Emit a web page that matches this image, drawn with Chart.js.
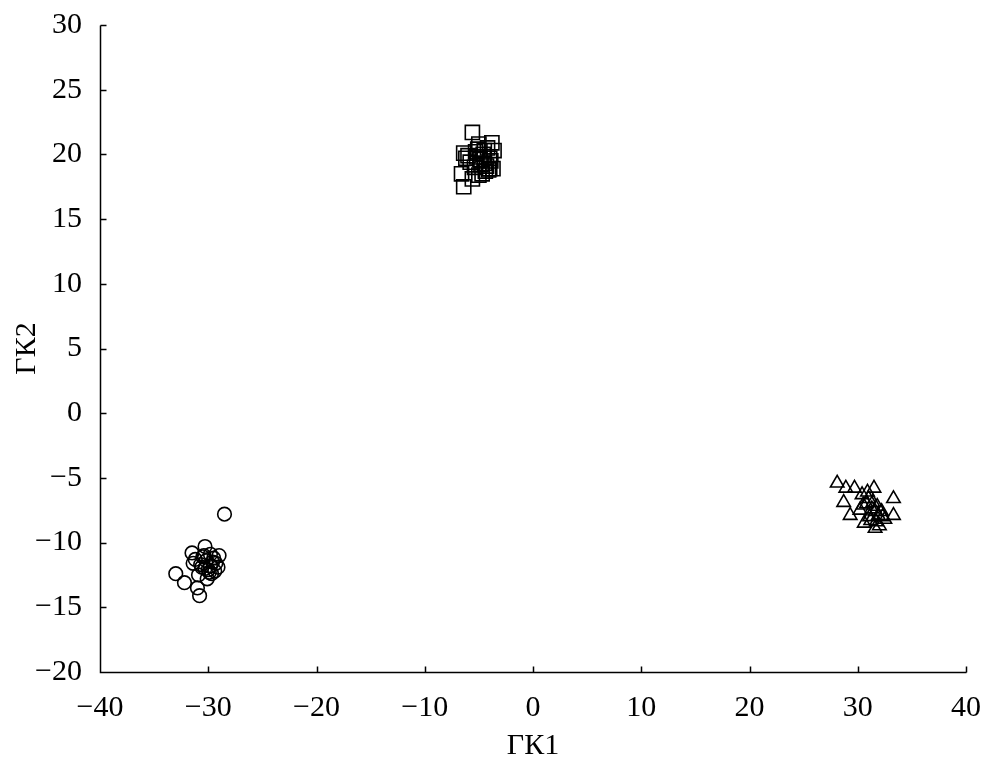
<!DOCTYPE html>
<html>
<head>
<meta charset="utf-8">
<script src="https://cdn.jsdelivr.net/npm/chart.js@4/dist/chart.umd.min.js"></script>
<style>
  html, body { margin: 0; padding: 0; background: #fff; }
  #wrap { width: 1004px; height: 770px; }
</style>
</head>
<body>
<div id="wrap"><canvas id="scatterChart"></canvas></div>
<script>
// squares (upper cluster)
const sqX = [-5.6, -6.6, -6.4, -5.6, -6.4, -3.8, -4.0, -6.2, -5.0, -4.5, -4.2, -5.2, -4.8, -3.9, -4.4, -5.4, -4.6, -3.6, -5.0, -4.3, -5.8, -4.9, -4.1, -3.7, -5.3, -4.7, -6.0, -4.5, -5.1, -4.0];
const sqY = [21.7, 18.5, 17.5, 18.1, 20.1, 20.9, 18.9, 19.7, 20.8, 20.3, 20.5, 19.8, 19.2, 19.5, 18.7, 19.0, 20.0, 20.3, 18.4, 19.1, 19.4, 19.6, 18.8, 18.9, 20.2, 18.5, 19.9, 19.3, 20.4, 19.7];

// circles (lower left)
const ciX = [-28.5, -33.0, -32.2, -30.8, -31.0, -30.3, -29.0, -31.5, -30.2, -29.8, -30.6, -29.5, -30.0, -29.3, -30.9, -29.7, -30.4, -29.1, -30.1, -31.2, -29.6, -30.7, -29.9, -30.3, -31.4, -29.4, -30.5, -29.8];
const ciY = [-7.8, -12.4, -13.1, -14.1, -13.5, -10.3, -11.0, -10.8, -11.4, -11.8, -11.9, -11.2, -12.1, -11.6, -12.5, -12.4, -11.0, -11.9, -12.8, -11.3, -11.5, -11.7, -12.3, -12.0, -11.6, -12.2, -11.1, -10.9];

// triangles (lower right)
const trX = [28.1, 28.9, 29.7, 31.5, 33.3, 28.7, 29.3, 33.3, 30.6, 31.6, 30.4, 31.0, 31.8, 32.2, 30.8, 31.3, 31.9, 32.5, 30.2, 31.1, 31.7, 32.0, 30.9, 31.4, 32.3, 31.6, 30.5, 31.2];
const trY = [-5.4, -5.8, -5.8, -5.8, -6.6, -6.9, -7.9, -7.9, -8.5, -8.9, -6.3, -6.6, -7.2, -7.6, -7.0, -7.4, -7.9, -8.2, -7.5, -8.0, -8.4, -8.7, -6.1, -6.9, -8.0, -7.6, -7.1, -8.3];

const xTicks = [-40, -30, -20, -10, 0, 10, 20, 30, 40];
const yTicks = [-20, -15, -10, -5, 0, 5, 10, 15, 20, 25, 30];

function toPoints(xs, ys) {
    return xs.map((x, i) => ({ x: x, y: ys[i] }));
}

function fmt(v) {
    return v < 0 ? "\u2212" + Math.abs(v) : String(v);
}

// axis lines plus short ticks pointing into the plot
const innerTicks = {
    id: "innerTicks",
    afterDraw(chart) {
        const ctx = chart.ctx;
        const xs = chart.scales.x, ys = chart.scales.y;
        const left = Math.round(xs.getPixelForValue(-40)) + 0.5;
        const bottom = Math.round(ys.getPixelForValue(-20)) + 0.5;
        ctx.save();
        ctx.strokeStyle = "#000";
        ctx.lineWidth = 1.5;
        ctx.beginPath();
        ctx.moveTo(left, Math.round(ys.getPixelForValue(30)) + 0.5);
        ctx.lineTo(left, bottom);
        ctx.lineTo(Math.round(xs.getPixelForValue(40)) + 0.5, bottom);
        xTicks.forEach(v => {
            const px = Math.round(xs.getPixelForValue(v)) + 0.5;
            ctx.moveTo(px, bottom);
            ctx.lineTo(px, bottom - 6);
        });
        yTicks.forEach(v => {
            const py = Math.round(ys.getPixelForValue(v)) + 0.5;
            ctx.moveTo(left, py);
            ctx.lineTo(left + 6, py);
        });
        ctx.stroke();
        ctx.restore();
    }
};

const font = { family: "'Liberation Serif', 'Times New Roman', serif", size: 30 };

const ds = (label, xs, ys, style, r) => ({
    label: label,
    data: toPoints(xs, ys),
    pointStyle: style,
    pointRadius: r,
    pointHoverRadius: r,
    borderColor: "#000",
    backgroundColor: "rgba(0,0,0,0)",
    borderWidth: 1.6
});

new Chart(document.getElementById("scatterChart").getContext("2d"), {
    type: "scatter",
    data: {
        datasets: [
            ds("squares", sqX, sqY, "rect", 10),
            ds("circles", ciX, ciY, "circle", 6.8),
            ds("triangles", trX, trY, "triangle", 7.8)
        ]
    },
    options: {
        responsive: true,
        maintainAspectRatio: false,
        animation: false,
        layout: { padding: { top: 25, right: 38, left: 0, bottom: 0 } },
        plugins: { legend: { display: false }, tooltip: { enabled: false } },
        scales: {
            x: {
                type: "linear",
                min: -40, max: 40,
                afterBuildTicks: s => { s.ticks = xTicks.map(v => ({ value: v })); },
                afterFit: s => { s.height = 98; s.paddingLeft = 0; s.paddingRight = 0; },
                grid: { display: false, drawTicks: false },
                border: { display: false },
                ticks: { color: "#000", font: font, padding: 18, maxRotation: 0, callback: v => fmt(v) },
                title: { display: true, text: "ГК1", color: "#000", font: font, padding: { top: 0, bottom: 6 } }
            },
            y: {
                type: "linear",
                min: -20, max: 30,
                afterBuildTicks: s => { s.ticks = yTicks.map(v => ({ value: v })); },
                afterFit: s => { s.width = 100; s.paddingTop = 0; s.paddingBottom = 0; },
                grid: { display: false, drawTicks: false },
                border: { display: false },
                ticks: { color: "#000", font: font, padding: 18, callback: v => fmt(v) },
                title: { display: true, text: "ГК2", color: "#000", font: font, padding: { top: 9, bottom: 0 } }
            }
        }
    },
    plugins: [innerTicks]
});
</script>
</body>
</html>
